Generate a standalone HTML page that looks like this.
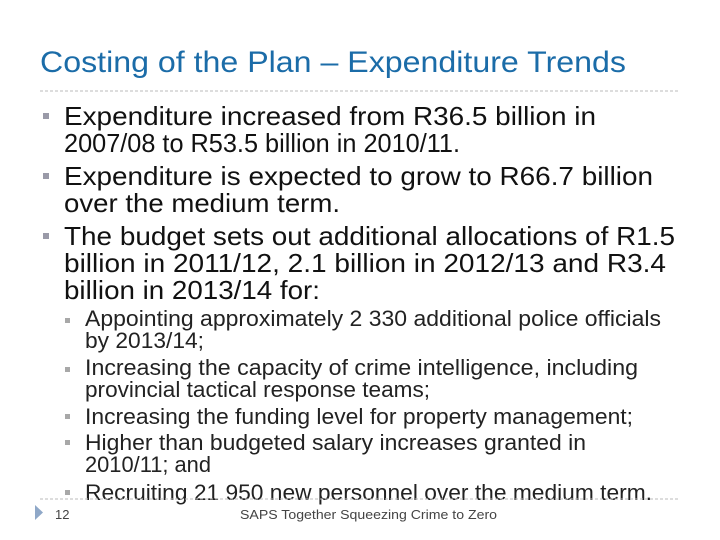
<!DOCTYPE html>
<html><head><meta charset="utf-8"><style>
html,body{margin:0;padding:0;background:#fff;}
svg{display:block;font-family:"Liberation Sans",Arial,sans-serif;}
</style></head><body>
<svg width="720" height="540" viewBox="0 0 720 540">
<text x="40" y="72" font-size="30" fill="#1b6ca8" textLength="586" lengthAdjust="spacingAndGlyphs">Costing of the Plan – Expenditure Trends</text>
<line x1="40" y1="91" x2="680" y2="91" stroke="#bbb" stroke-width="1" stroke-dasharray="3,2"/>
<g fill="#9a9aa8">
<rect x="43" y="113" width="6" height="6"/><rect x="43" y="173" width="6" height="6"/><rect x="43" y="233" width="6" height="6"/>
</g>
<g font-size="26" fill="#111">
<text x="64" y="125" textLength="532" lengthAdjust="spacingAndGlyphs">Expenditure increased from R36.5 billion in</text>
<text x="64" y="152" textLength="396" lengthAdjust="spacingAndGlyphs">2007/08 to R53.5 billion in 2010/11.</text>
<text x="64" y="185" textLength="589" lengthAdjust="spacingAndGlyphs">Expenditure is expected to grow to R66.7 billion</text>
<text x="64" y="212" textLength="276" lengthAdjust="spacingAndGlyphs">over the medium term.</text>
<text x="64" y="245" textLength="611" lengthAdjust="spacingAndGlyphs">The budget sets out additional allocations of R1.5</text>
<text x="64" y="272" textLength="602" lengthAdjust="spacingAndGlyphs">billion in 2011/12, 2.1 billion in 2012/13 and R3.4</text>
<text x="64" y="299" textLength="256" lengthAdjust="spacingAndGlyphs">billion in 2013/14 for:</text>
</g>
<g fill="#a8a8a8">
<rect x="65" y="318" width="5" height="5"/><rect x="65" y="367" width="5" height="5"/><rect x="65" y="414" width="5" height="5"/><rect x="65" y="440" width="5" height="5"/><rect x="65" y="490" width="5" height="5"/>
</g>
<g font-size="22" fill="#222">
<text x="85" y="326" textLength="576" lengthAdjust="spacingAndGlyphs">Appointing approximately 2 330 additional police officials</text>
<text x="85" y="348" textLength="119" lengthAdjust="spacingAndGlyphs">by 2013/14;</text>
<text x="85" y="375" textLength="553" lengthAdjust="spacingAndGlyphs">Increasing the capacity of  crime intelligence, including</text>
<text x="85" y="397" textLength="345" lengthAdjust="spacingAndGlyphs">provincial tactical response teams;</text>
<text x="85" y="424" textLength="548" lengthAdjust="spacingAndGlyphs">Increasing the funding level for property management;</text>
<text x="85" y="450" textLength="501" lengthAdjust="spacingAndGlyphs">Higher than budgeted salary increases granted in</text>
<text x="85" y="472" textLength="126" lengthAdjust="spacingAndGlyphs">2010/11; and</text>
<text x="85" y="500" textLength="567" lengthAdjust="spacingAndGlyphs">Recruiting 21 950 new personnel over the medium term.</text>
</g>
<line x1="40" y1="499" x2="680" y2="499" stroke="#bbb" stroke-width="1" stroke-dasharray="3,2"/>
<polygon points="35,505 43,512.5 35,520" fill="#8fa8c8"/>
<text x="55" y="519" font-size="13" fill="#444">12</text>
<text x="240" y="519" font-size="13" fill="#444" textLength="257" lengthAdjust="spacingAndGlyphs">SAPS Together Squeezing Crime to Zero</text>
</svg>
</body></html>
